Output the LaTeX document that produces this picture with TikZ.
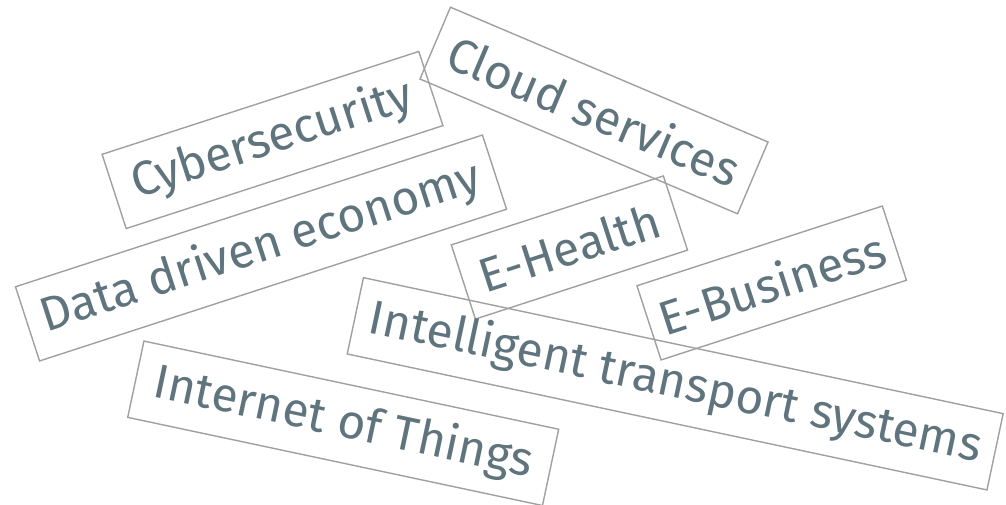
\documentclass[tikz,border=0pt]{standalone}
\usepackage{fontspec}
\setmainfont{Fira Sans}
\usepackage{xcolor}
\usepackage{tikz}
\usetikzlibrary{positioning}
\definecolor{wordtext}{RGB}{96,116,126}
\definecolor{border}{RGB}{160,160,160}
\tikzset{
    topic/.style={rectangle, draw=border, line width=1.4pt, inner sep=0pt, minimum height=78, text=wordtext, font=\fontsize{48}{54}\selectfont, anchor=center}
}
\begin{document}
\begin{tikzpicture}[x=1pt, y=-1pt]
    \useasboundingbox (0,0) rectangle (1006,505);
    % Nodes
    \node (cyber) [topic, minimum width=333, rotate=18] at (272.5,140) {Cybersecurity};
    \node (cloud) [topic, minimum width=345, rotate=-23] at (594,110.5) {Cloud services};
    \node (data) [topic, minimum width=491, rotate=18] at (261,248) {Data driven economy};
    \node (health) [topic, minimum width=223, rotate=18] at (569.4,247.5) {E-Health};
    \node (business) [topic, minimum width=258, rotate=18] at (771.7,283) {E-Business};
    \node (transport) [topic, minimum width=654, rotate=-12] at (675.2,383.8) {Intelligent transport systems};
    \node (iot) [topic, minimum width=424, rotate=-12] at (343.2,423.3) {Internet of Things};
\end{tikzpicture}
\end{document}
